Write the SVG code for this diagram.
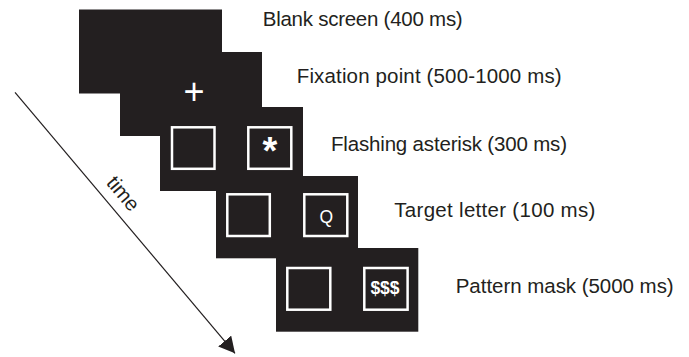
<svg xmlns="http://www.w3.org/2000/svg" width="689" height="357" viewBox="0 0 689 357">
  <style>
    .screen { fill: #231f20; }
    .box { fill: none; stroke: #ffffff; stroke-width: 2.5; }
    .label { font-family: "Liberation Sans", Arial, sans-serif; font-size: 20.5px; fill: #231f20; }
    .sym { font-family: "Liberation Sans", Arial, sans-serif; fill: #ffffff; text-anchor: middle; }
    .axis { stroke: #231f20; stroke-width: 1.2; fill: none; }
  </style>
  <defs>
    <marker id="arrowhead" markerUnits="userSpaceOnUse" markerWidth="17" markerHeight="18" refX="16" refY="8.5" orient="auto">
      <path d="M0,0 L16,8.5 L0,17 z" fill="#231f20"/>
    </marker>
  </defs>
  <rect width="689" height="357" fill="#ffffff"/>

  <g id="blank-screen">
    <rect class="screen" x="79" y="9.5" width="143" height="84"/>
    <text class="label" x="262.7" y="26" textLength="200" lengthAdjust="spacing">Blank screen (400 ms)</text>
  </g>

  <g id="fixation-point">
    <rect class="screen" x="120" y="52" width="142" height="84"/>
    <text class="sym" x="194" y="104" font-size="36px">+</text>
    <text class="label" x="296.7" y="82.7" textLength="265" lengthAdjust="spacing">Fixation point (500-1000 ms)</text>
  </g>

  <g id="flashing-asterisk">
    <rect class="screen" x="160" y="107" width="143" height="84"/>
    <rect class="box" x="172" y="127.3" width="42.5" height="41.5"/>
    <rect class="box" x="248.3" y="127.3" width="43" height="41.5"/>
    <text class="sym" x="270" y="163.5" font-size="38px" font-weight="bold">*</text>
    <text class="label" x="331" y="151" textLength="236" lengthAdjust="spacing">Flashing asterisk (300 ms)</text>
  </g>

  <g id="target-letter">
    <rect class="screen" x="216" y="176" width="142" height="82.3"/>
    <rect class="box" x="227.3" y="194.3" width="42.5" height="41.7"/>
    <rect class="box" x="304.3" y="194.3" width="43" height="41.7"/>
    <text class="sym" x="326.3" y="222.5" font-size="17.5px">Q</text>
    <text class="label" x="394.3" y="217.3" textLength="201" lengthAdjust="spacing">Target letter (100 ms)</text>
  </g>

  <g id="pattern-mask">
    <rect class="screen" x="276" y="248" width="142.3" height="83.7"/>
    <rect class="box" x="287.3" y="268" width="43" height="41.7"/>
    <rect class="box" x="364.3" y="268" width="43.3" height="41.7"/>
    <text class="sym" x="385" y="293.5" font-size="17.5px" font-weight="bold">$$$</text>
    <text class="label" x="455.7" y="293.3" textLength="218" lengthAdjust="spacing">Pattern mask (5000 ms)</text>
  </g>

  <g id="connectors">
    <line class="axis" x1="15" y1="92.3" x2="235" y2="353.3" marker-end="url(#arrowhead)"/>
    <text class="label" x="118" y="198" text-anchor="middle" transform="rotate(49.9 118 198)">time</text>
  </g>
</svg>
